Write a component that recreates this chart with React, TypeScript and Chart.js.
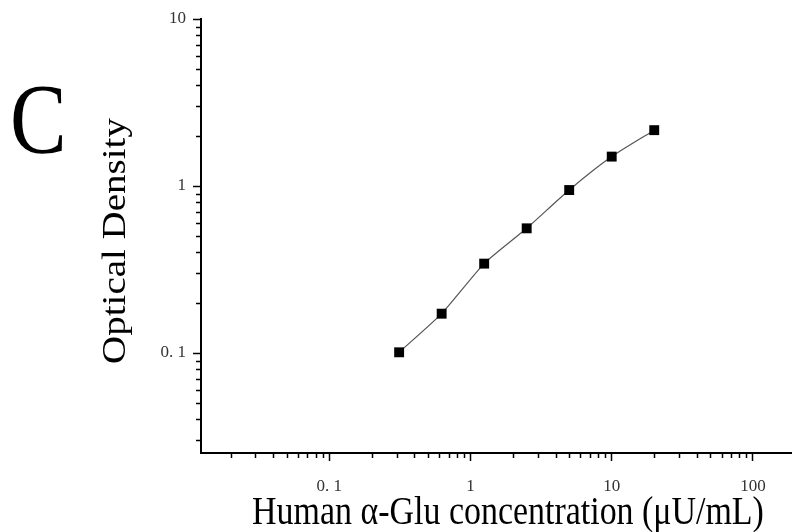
import React, { useEffect, useRef } from "react";
import { Chart, registerables } from "chart.js";

Chart.register(...registerables);

// ---- data ----
const concentrations = [0.3125, 0.625, 1.25, 2.5, 5, 10, 20];
const opticalDensity = [0.101, 0.172, 0.343, 0.558, 0.946, 1.5, 2.16];

const xTickValues = [0.1, 1, 10, 100];
const xTickLabels = ["0. 1", "1", "10", "100"];
const yTickValues = [0.1, 1, 10];
const yTickLabels = ["0. 1", "1", "10"];

const xMinorTicks = [
  0.02, 0.03, 0.04, 0.05, 0.06, 0.07, 0.08, 0.09,
  0.2, 0.3, 0.4, 0.5, 0.6, 0.7, 0.8, 0.9,
  2, 3, 4, 5, 6, 7, 8, 9,
  20, 30, 40, 50, 60, 70, 80, 90,
];
const yMinorTicks = [
  0.03, 0.04, 0.05, 0.06, 0.07, 0.08, 0.09,
  0.2, 0.3, 0.4, 0.5, 0.6, 0.7, 0.8, 0.9,
  2, 3, 4, 5, 6, 7, 8, 9,
];

const xTitle = "Human \u03b1-Glu concentration (\u03bcU/mL)";
const yTitle = "Optical Density";
const panelLetter = "C";

const X_MIN = 0.01236;
const X_MAX = 189;
const Y_MIN = 0.0252;
const Y_MAX = 10;

const SERIF = "'Liberation Serif', 'Times New Roman', 'DejaVu Serif', serif";
const SQUEEZE = 0.87;

export default function App() {
  const canvasRef = useRef<HTMLCanvasElement>(null);

  useEffect(() => {
    document.body.style.margin = "0";
    const canvas = canvasRef.current;
    if (!canvas) return;

    const decorPlugin = {
      id: "decor",
      afterDraw(chart: any) {
        const ctx = chart.ctx as CanvasRenderingContext2D;
        const xs = chart.scales.x;
        const ys = chart.scales.y;
        const area = chart.chartArea;
        ctx.save();
        // minor ticks
        ctx.strokeStyle = "#000";
        ctx.lineWidth = 1.5;
        ctx.beginPath();
        xMinorTicks.forEach((v) => {
          const px = Math.round(xs.getPixelForValue(v)) + 0.5;
          if (px < area.left || px > area.right) return;
          ctx.moveTo(px, area.bottom);
          ctx.lineTo(px, area.bottom + 5);
        });
        yMinorTicks.forEach((v) => {
          const py = Math.round(ys.getPixelForValue(v)) + 0.5;
          if (py < area.top || py > area.bottom) return;
          ctx.moveTo(area.left, py);
          ctx.lineTo(area.left - 5, py);
        });
        ctx.stroke();

        ctx.fillStyle = "#000";
        ctx.textAlign = "center";
        ctx.textBaseline = "alphabetic";

        // x title
        ctx.save();
        ctx.translate(508, 524);
        ctx.scale(SQUEEZE, 1);
        ctx.font = `39px ${SERIF}`;
        ctx.fillText(xTitle, 0, 0);
        ctx.restore();

        // y title
        ctx.save();
        ctx.translate(125, 241);
        ctx.scale(SQUEEZE, 1);
        ctx.rotate(-Math.PI / 2);
        ctx.font = `39px ${SERIF}`;
        ctx.fillText(yTitle, 0, 0);
        ctx.restore();

        // panel letter
        ctx.save();
        ctx.translate(10, 152);
        ctx.scale(0.85, 1);
        ctx.font = `100px ${SERIF}`;
        ctx.textAlign = "left";
        ctx.fillText(panelLetter, 0, 0);
        ctx.restore();

        ctx.restore();
      },
    };

    const chart = new Chart(canvas, {
      type: "line",
      data: {
        datasets: [
          {
            data: concentrations.map((c, i) => ({ x: c, y: opticalDensity[i] })),
            borderColor: "#555",
            borderWidth: 1.2,
            tension: 0.2,
            pointStyle: "rect",
            pointRadius: 7,
            pointHoverRadius: 7,
            pointBackgroundColor: "#000",
            pointBorderWidth: 0,
            fill: false,
          },
        ],
      },
      options: {
        animation: false,
        responsive: true,
        maintainAspectRatio: false,
        layout: { autoPadding: false, padding: { top: 19, right: 0, bottom: 0, left: 0 } },
        plugins: {
          legend: { display: false },
          tooltip: { enabled: false },
          title: { display: false },
        },
        scales: {
          x: {
            type: "logarithmic",
            min: X_MIN,
            max: X_MAX,
            afterBuildTicks: (scale: any) => {
              scale.ticks = xTickValues.map((v) => ({ value: v }));
            },
            afterFit: (scale: any) => {
              scale.height = 79;
              scale.paddingRight = 0;
              scale.paddingLeft = 0;
            },
            ticks: {
              autoSkip: false,
              maxRotation: 0,
              padding: 15,
              color: "#333",
              font: { family: SERIF, size: 17 },
              callback: (value: any) => {
                const i = xTickValues.findIndex((v) => Math.abs(v - Number(value)) < 1e-9);
                return i >= 0 ? xTickLabels[i] : "";
              },
            },
            grid: {
              display: true,
              drawOnChartArea: false,
              drawTicks: true,
              tickLength: 8,
              tickWidth: 1.5,
              tickColor: "#000",
            },
            border: { display: true, color: "#000", width: 2 },
          },
          y: {
            type: "logarithmic",
            min: Y_MIN,
            max: Y_MAX,
            afterBuildTicks: (scale: any) => {
              scale.ticks = yTickValues.map((v) => ({ value: v }));
            },
            afterFit: (scale: any) => {
              scale.width = 201;
            },
            ticks: {
              autoSkip: false,
              padding: 7,
              color: "#333",
              font: { family: SERIF, size: 17 },
              callback: (value: any) => {
                const i = yTickValues.findIndex((v) => Math.abs(v - Number(value)) < 1e-9);
                return i >= 0 ? yTickLabels[i] : "";
              },
            },
            grid: {
              display: true,
              drawOnChartArea: false,
              drawTicks: true,
              tickLength: 8,
              tickWidth: 1.5,
              tickColor: "#000",
            },
            border: { display: true, color: "#000", width: 2 },
          },
        },
      },
      plugins: [decorPlugin],
    });

    return () => {
      chart.destroy();
    };
  }, []);

  return (
    <div style={{ position: "fixed", left: 0, top: 0, width: 792, height: 532, background: "#fff" }}>
      <canvas ref={canvasRef} />
    </div>
  );
}
